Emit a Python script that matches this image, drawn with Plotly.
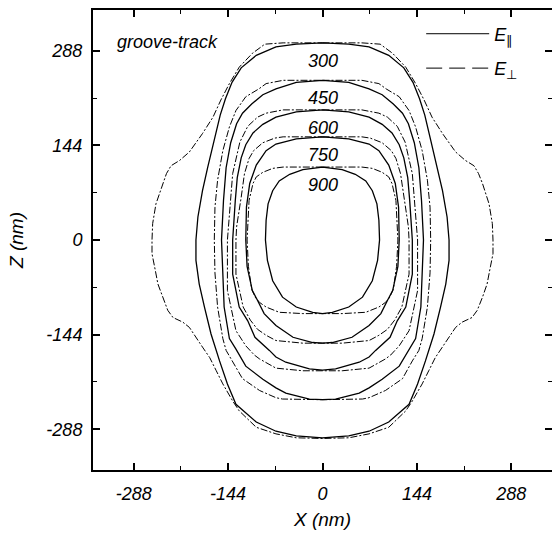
import plotly.graph_objects as go

# ---- data (right halves, x >= 0, top -> bottom; nm) ----
levels = [300, 450, 600, 750, 900]
level_labels = ["300", "450", "600", "750", "900"]

# E-parallel (solid) contours
par_300_x = [0, 40, 71, 101, 124, 138, 148, 156, 165, 175, 183, 190, 193, 193, 188, 180, 170, 157, 145, 132, 101, 71, 40, 0]
par_300_z = [300, 298, 294, 281, 262, 240, 215, 190, 152, 111, 75, 35, 0, -31, -67, -102, -143, -184, -219, -250, -277, -291, -298, -301]
par_450_x = [0, 40, 71, 91, 108, 122, 131, 140, 147, 151, 154, 152, 150, 142, 132, 117, 91, 71, 56, 20, 0]
par_450_z = [243, 240, 230, 221, 207, 193, 177, 148, 110, 60, 0, -60, -102, -150, -166, -192, -212, -225, -233, -242, -243]
par_600_x = [0, 40, 71, 91, 106, 117, 124, 130, 133, 137, 137, 127, 114, 103, 81, 71, 56, 20, 0]
par_600_z = [198, 195, 187, 176, 163, 145, 125, 95, 60, 0, -52, -102, -123, -148, -168, -178, -186, -196, -198]
par_750_x = [0, 40, 71, 86, 101, 111, 116, 117, 115, 107, 99, 89, 71, 45, 15, 0]
par_750_z = [157, 154, 146, 136, 114, 86, 50, 0, -40, -77, -92, -112, -130, -148, -156, -157]
par_900_x = [0, 30, 50, 66, 76, 83, 86, 87, 84, 76, 61, 40, 15, 0]
par_900_z = [111, 107, 100, 90, 75, 55, 30, 0, -31, -62, -87, -102, -110, -112]

# E-perpendicular (dash-dot) contours
perp_300_x = [0, 60, 88, 107, 127, 142, 155, 167, 183, 203, 218, 231, 238, 244, 254, 259, 260, 260, 256, 251, 244, 236, 228, 213, 203, 193, 183, 172, 162, 152, 137, 127, 101, 71, 40, 0]
perp_300_z = [300, 300, 298, 284, 263, 238, 213, 187, 162, 134, 121, 113, 101, 86, 55, 25, 0, -21, -41, -67, -87, -107, -118, -125, -133, -148, -163, -179, -199, -219, -245, -260, -285, -295, -301, -302]
perp_450_x = [0, 60, 86, 97, 117, 132, 142, 152, 160, 164, 165, 164, 160, 152, 147, 137, 122, 96, 71, 61, 0]
perp_450_z = [243, 243, 238, 230, 218, 197, 172, 136, 91, 50, 0, -50, -102, -150, -168, -184, -211, -229, -240, -242, -243]
perp_600_x = [0, 60, 86, 99, 114, 126, 137, 140, 145, 145, 132, 117, 104, 96, 71, 30, 0]
perp_600_z = [198, 198, 193, 187, 173, 149, 101, 60, 0, -77, -138, -161, -175, -181, -195, -199, -199]
perp_750_x = [0, 60, 73, 91, 105, 112, 119, 124, 131, 132, 132, 121, 110, 99, 86, 71, 30, 0]
perp_750_z = [157, 157, 155, 148, 136, 124, 101, 65, 20, 0, -52, -102, -122, -136, -145, -153, -157, -157]
perp_900_x = [0, 60, 76, 91, 101, 106, 112, 114, 115, 113, 108, 102, 96, 86, 66, 30, 0]
perp_900_z = [111, 111, 109, 103, 96, 86, 60, 30, 0, -40, -75, -88, -95, -102, -110, -112, -112]

tick_vals = [-288, -144, 0, 144, 288]
tick_text = ["-288", "-144", "0", "144", "288"]
minor_vals = [-216, -72, 72, 216]

par_sets = [(par_300_x, par_300_z), (par_450_x, par_450_z), (par_600_x, par_600_z),
            (par_750_x, par_750_z), (par_900_x, par_900_z)]
perp_sets = [(perp_300_x, perp_300_z), (perp_450_x, perp_450_z), (perp_600_x, perp_600_z),
             (perp_750_x, perp_750_z), (perp_900_x, perp_900_z)]


def closed(hx, hz):
    # right half followed by its mirror image (contours are symmetric in X)
    xs = list(hx) + [-v for v in hx[::-1]]
    zs = list(hz) + list(hz[::-1])
    return xs, zs


FONT = "Liberation Sans, Arial, sans-serif"
DASHDOT = "7px,2px,2px,2px"

fig = go.Figure()
for hx, hz in perp_sets:
    xs, zs = closed(hx, hz)
    fig.add_trace(go.Scatter(x=xs, y=zs, mode="lines", showlegend=False, hoverinfo="skip",
                             line=dict(color="black", width=1, dash=DASHDOT)))
for hx, hz in par_sets:
    xs, zs = closed(hx, hz)
    fig.add_trace(go.Scatter(x=xs, y=zs, mode="lines", showlegend=False, hoverinfo="skip",
                             line=dict(color="black", width=1.3)))

# legend entries
fig.add_trace(go.Scatter(x=[None], y=[None], mode="lines",
                         name="<i>E</i><sub><span style='color:black'>∥</span></sub>",
                         legendgroup="a", line=dict(color="black", width=1)))
fig.add_trace(go.Scatter(x=[None], y=[None], mode="lines",
                         name="<i>E</i><sub><span style='color:black'>⊥</span></sub>",
                         legendgroup="b", line=dict(color="black", width=1, dash="16px,7px")))

# contour level labels, centred under the top of each contour
for lab, (hx, hz) in zip(level_labels, perp_sets):
    fig.add_annotation(x=0, y=max(hz), xref="x", yref="y", text=lab, showarrow=False,
                       yshift=-18, font=dict(family=FONT, size=18, color="black", style="italic"))

fig.add_annotation(x=0.048, y=0.93, xref="paper", yref="paper", xanchor="left", yanchor="middle",
                   text="groove-track", showarrow=False,
                   font=dict(family=FONT, size=18, color="black", style="italic"))

axis_common = dict(
    range=[-350, 350], tickmode="array", tickvals=tick_vals, ticktext=tick_text,
    ticks="inside", ticklen=7, tickwidth=1.5, tickcolor="black",
    showline=True, linewidth=2, linecolor="black", mirror="allticks",
    showgrid=False, zeroline=False, automargin=False,
    minor=dict(tickmode="array", tickvals=minor_vals, ticks="inside", ticklen=4,
               tickwidth=1.2, tickcolor="black", showgrid=False),
    tickfont=dict(family=FONT, size=18, color="black", style="italic"),
)

fig.update_layout(
    width=552, height=533,
    margin=dict(l=93, r=0, t=10, b=63),
    paper_bgcolor="white", plot_bgcolor="white",
    xaxis=dict(axis_common, ticklabelstandoff=6,
               title=dict(text="X (nm)", standoff=10,
                          font=dict(family=FONT, size=19, color="black", style="italic"))),
    yaxis=dict(axis_common, ticklabelstandoff=5,
               title=dict(text="Z (nm)", standoff=18,
                          font=dict(family=FONT, size=19, color="black", style="italic"))),
    legend=dict(x=0.715, y=0.988, xanchor="left", yanchor="top", itemwidth=63,
                font=dict(family=FONT, size=18, color="black"), bgcolor="rgba(0,0,0,0)",
                tracegroupgap=8, itemclick=False, itemdoubleclick=False),
    showlegend=True,
)

fig.write_html("out.html", config={"displayModeBar": False},
               post_script="document.body.style.margin='0';document.body.style.overflow='hidden';")
